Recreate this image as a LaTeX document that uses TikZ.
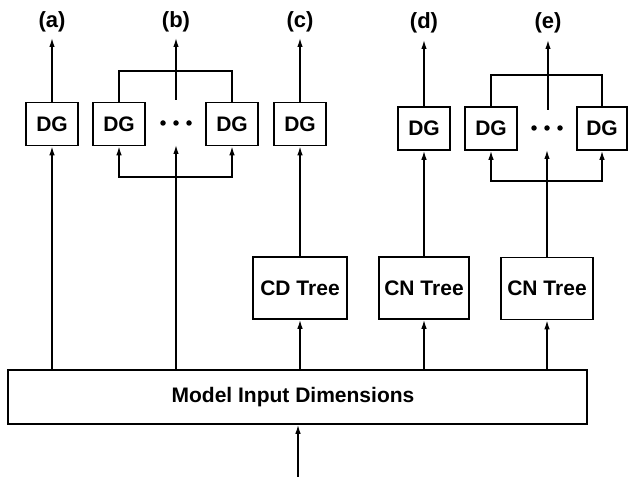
\documentclass[tikz,border=0pt]{standalone}
\usepackage{fontspec}
\setmainfont{Liberation Sans}
\usetikzlibrary{arrows.meta}
\begin{document}
\begin{tikzpicture}[x=1bp,y=-1bp,
  box/.style={draw,line width=1.6bp,inner sep=0pt,font=\fontsize{21bp}{25bp}\selectfont\bfseries},
  dgbox/.style={box,minimum width=52bp,minimum height=43bp},
  treebox/.style={box,minimum width=92bp,minimum height=62bp},
  lbl/.style={font=\fontsize{22bp}{26bp}\selectfont\bfseries,inner sep=0pt},
  conn/.style={line width=1.4bp},
  arr/.style={conn,-{Latex[length=9bp,width=5.5bp]}},
  dot/.style={circle,fill,inner sep=0pt,minimum size=5.5bp}]
\useasboundingbox (0,0) rectangle (628,477);
% labels
\node[lbl] (la) at (52,22) {(a)};
\node[lbl] (lb) at (176,22) {(b)};
\node[lbl] (lc) at (300,22) {(c)};
\node[lbl] (ld) at (424,23) {(d)};
\node[lbl] (le) at (548,23) {(e)};
\coordinate (ta) at (52,38);
\coordinate (tb) at (176,38);
\coordinate (tc) at (300,38);
\coordinate (td) at (424,40);
\coordinate (te) at (548,40);
% DG boxes
\node[dgbox] (dga) at (52,124) {DG};
\node[dgbox] (dgb1) at (119,124) {DG};
\node[dgbox] (dgb2) at (232,124) {DG};
\node[dgbox] (dgc) at (300,124) {DG};
\node[dgbox] (dgd) at (424,128.5) {DG};
\node[dgbox] (dge1) at (491,128.5) {DG};
\node[dgbox,minimum width=50bp] (dge2) at (602,128.5) {DG};
% dots
\node[dot] (db1) at (163,123) {};
\node[dot] (db2) at (176,123) {};
\node[dot] (db3) at (189,123) {};
\node[dot] (de1) at (534,128) {};
\node[dot] (de2) at (547,128) {};
\node[dot] (de3) at (560,128) {};
% trees
\node[treebox,minimum width=94bp] (cd) at (300,288) {CD Tree};
\node[treebox,minimum width=90bp] (cnd) at (424,288) {CN Tree};
\node[treebox] (cne) at (547,288.5) {CN Tree};
% main
\node[box,minimum width=579bp,minimum height=54bp] (mid) at (297.5,397) {};
\node[font=\fontsize{21bp}{25bp}\selectfont\bfseries,inner sep=0pt] (midtxt) at (293,397) {Model Input Dimensions};
\coordinate (inp) at (298,477);
% (a)
\draw[arr] (dga.north) -- (ta);
\draw[arr] (mid.north -| dga) -- (dga.south);
% (b)
\coordinate (bt) at (176,71);
\coordinate (bc) at (176,100);
\coordinate (bb) at (176,177);
\coordinate (bbt) at (176,145);
\draw[conn] (dgb1.north) |- (bt) -| (dgb2.north);
\draw[arr] (bc) -- (tb);
\draw[arr] (bb) -| (dgb1.south);
\draw[arr] (bb) -| (dgb2.south);
\draw[arr] (mid.north -| bb) -- (bbt);
% (c)
\draw[arr] (dgc.north) -- (tc);
\draw[arr] (cd.north) -- (dgc.south);
\draw[arr] (mid.north -| cd) -- (cd.south);
% (d)
\draw[arr] (dgd.north) -- (td);
\draw[arr] (cnd.north) -- (dgd.south);
\draw[arr] (mid.north -| cnd) -- (cnd.south);
% (e)
\coordinate (et) at (548,75);
\coordinate (ec) at (548,110);
\coordinate (eb) at (548,181);
\coordinate (ebt) at (548,150);
\draw[conn] (dge1.north) |- (et) -| (dge2.north);
\draw[arr] (ec) -- (te);
\draw[arr] (eb) -| (dge1.south);
\draw[arr] (eb) -| (dge2.south);
\draw[arr] (cne.north) -- (cne.north |- ebt);
\draw[arr] (mid.north -| cne) -- (cne.south);
% input
\draw[arr] (inp) -- (mid.south -| inp);
\end{tikzpicture}
\end{document}
